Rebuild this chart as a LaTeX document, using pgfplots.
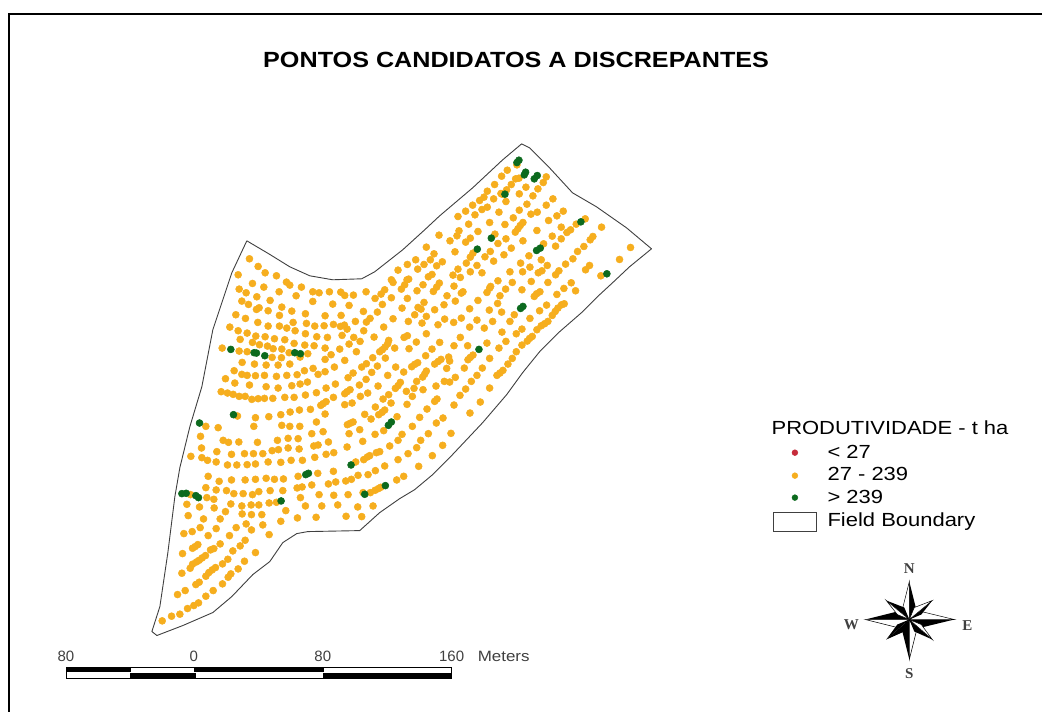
\documentclass[border=0pt]{standalone}
\usepackage{pgfplots}
\usepackage{pgfplotstable}
\usepackage{fontspec}
\setmainfont{Liberation Sans}
\newfontfamily\serif{Liberation Serif}
\pgfplotsset{compat=1.18}
\definecolor{ptorange}{HTML}{F6AE1E}
\definecolor{ptgreen}{HTML}{0C6A1E}
\definecolor{ptred}{HTML}{C62B3A}
\definecolor{edge}{HTML}{404040}

% points read off the crops, each table in the 3x coordinates of its crop
\pgfplotstableread{
x y
179 87
205 110
226 129
145 135
260 138
188 161
290 157
300 166
222 172
335 172
148 178
169 189
268 186
369 186
388 189
419 186
453 187
465 197
491 196
529 186
201 201
319 198
241 212
156 214
176 224
369 215
429 223
478 227
556 206
574 193
585 180
605 204
578 224
605 150
610 158
652 150
657 148
645 165
635 178
682 183
625 121
653 104
678 90
703 104
684 118
722 90
733 72
710 52
748 16
741 108
758 96
727 134
716 141
749 160
741 172
731 185
700 165
772 198
653 206
637 235
703 218
694 238
685 233
675 255
710 260
656 275
697 280
735 240
763 225
765 268
745 285
710 312
680 337
727 358
750 338
708 378
653 318
643 323
597 332
594 342
586 352
578 360
570 366
615 355
658 357
553 322
522 303
582 292
610 267
563 247
541 266
530 277
521 245
497 275
454 257
406 258
347 252
276 232
235 243
306 244
208 234
200 239
138 255
167 266
204 278
235 289
269 257
310 278
350 281
269 289
291 295
316 303
375 289
403 288
431 284
452 290
464 286
472 298
120 292
145 303
172 310
198 319
226 321
254 327
285 330
347 312
381 321
413 323
457 317
492 323
151 329
188 338
209 345
233 349
250 357
313 341
345 346
97 355
148 364
172 366
276 358
298 369
373 348
406 355
450 358
478 343
511 335
247 383
275 384
354 372
331 382
424 375
406 389
500 366
157 398
194 403
229 406
265 406
300 403
370 416
465 392
549 384
530 402
516 412
563 409
587 385
618 412
666 411
675 404
684 399
735 403
746 395
754 389
777 382
771 416
133 423
156 434
172 437
197 438
224 437
260 440
291 437
322 435
344 423
385 434
406 426
434 412
490 430
475 444
546 428
529 449
594 437
642 427
710 424
705 433
699 442
681 455
107 447
135 460
179 466
229 471
265 475
306 468
331 463
353 457
409 475
437 463
509 466
565 469
632 458
625 468
617 476
673 476
700 480
739 469
764 455
94 486
113 490
130 494
148 500
166 500
186 509
205 507
224 506
249 506
285 503
313 503
347 496
380 489
465 492
472 486
481 480
512 500
534 490
597 495
580 508
604 520
650 485
668 500
431 503
409 516
400 522
393 527
465 525
487 520
557 532
652 524
622 561
585 541
577 548
567 555
525 554
544 568
406 553
362 539
329 541
301 547
273 555
237 561
197 564
143 559
712 538
735 515
742 508
740 580
760 565
690 563
668 590
380 577
490 577
481 581
473 585
330 590
300 590
276 587
192 590
85 594
48 590
}\ptsB
\pgfplotstableread{
x y
123 359
193 369
200 370
225 378
315 369
332 372
131 555
29 580
596 587
605 577
}\greenB
\pgfplotstableread{
x y
223 19
245 40
250 36
295 62
227 64
270 87
245 115
222 128
242 173
223 198
210 244
227 293
210 307
241 347
223 376
271 400
302 367
330 325
258 328
275 305
292 287
308 265
254 265
265 240
272 233
280 226
330 236
264 198
322 190
358 205
379 185
367 157
410 162
427 148
391 125
404 105
366 97
339 125
314 145
292 121
270 142
329 91
354 71
361 48
322 38
330 25
333 20
378 28
398 8
355 3
427 30
464 50
471 42
481 36
455 5
505 8
532 44
553 26
575 9
588 33
501 76
480 93
451 116
554 72
546 75
535 85
527 95
518 107
505 125
495 132
485 138
472 150
458 170
450 176
443 184
427 196
410 216
398 236
385 253
370 272
361 280
352 287
67 464
214 461
146 462
123 482
189 497
111 504
85 522
158 528
117 560
72 590
}\ptsC
\pgfplotstableread{
x y
423 86
430 80
298 209
}\greenC
\pgfplotstableread{
x y
232 90
203 106
186 124
238 130
228 132
320 126
311 143
165 149
215 149
201 165
143 169
259 157
295 162
133 187
120 197
280 183
239 177
162 192
184 176
340 192
199 200
99 211
262 208
320 211
143 217
127 224
78 229
239 226
178 232
371 229
293 232
274 238
55 245
106 240
352 243
221 249
327 257
150 263
250 263
242 272
235 282
227 292
196 269
87 268
365 277
437 252
410 268
486 277
393 285
382 293
365 312
292 287
58 288
52 303
115 290
92 310
78 322
31 318
166 298
199 312
250 318
460 305
452 315
433 335
414 350
400 372
378 388
573 338
540 374
450 392
438 405
484 423
312 327
348 334
338 304
215 340
175 326
152 350
136 366
162 379
193 360
100 355
92 367
80 385
112 392
46 351
268 363
305 375
323 392
243 385
271 397
307 408
296 414
358 408
348 420
92 411
127 414
211 411
249 411
55 403
40 421
62 428
188 178
}\ptsD
\pgfplotstableread{
x y
238 76
232 83
258 112
254 120
293 122
284 132
196 178
424 261
155 310
113 343
302 340
291 347
502 417
}\greenD
\pgfplotstableread{
x y
182 50
250 62
266 68
297 67
353 68
413 62
445 56
475 57
516 42
550 36
628 42
660 30
706 44
732 33
522 79
535 76
566 67
622 82
669 65
750 79
775 62
185 85
231 96
275 104
314 102
341 102
369 102
397 93
416 90
445 85
478 88
710 99
720 96
153 110
186 114
203 122
229 127
263 136
291 136
322 135
347 133
385 127
423 128
454 122
488 122
525 113
559 104
582 99
672 120
683 112
690 108
648 127
735 139
775 120
581 155
534 161
475 170
205 170
238 185
275 181
316 181
347 179
379 176
404 179
431 178
655 167
685 165
707 153
635 179
618 184
588 187
566 193
516 196
487 202
472 205
771 181
198 204
229 211
260 213
282 222
310 222
338 225
357 216
391 213
429 213
670 219
692 219
706 212
716 207
723 203
538 225
582 227
625 225
482 234
141 254
179 262
201 234
222 239
223 265
273 253
306 259
334 256
357 256
388 250
410 248
497 259
546 259
594 256
654 262
700 259
257 276
307 283
335 285
366 285
438 273
145 288
191 298
241 298
473 295
529 293
619 290
666 291
423 305
319 313
369 316
181 324
229 327
289 324
335 331
157 336
132 342
205 348
269 348
388 345
316 362
241 373
301 379
174 375
166 381
158 386
222 387
212 391
279 394
128 402
347 399
197 408
187 415
178 422
170 427
158 434
151 446
264 419
248 433
314 425
227 444
217 451
207 459
198 470
295 448
126 461
273 463
265 473
248 493
178 488
168 495
136 513
113 525
220 513
198 530
176 550
162 558
143 567
120 584
95 590
67 604
152 225
}\ptsA
\pgfplotstableread{
x y
126 222
139 221
168 228
176 234
424 244
498 165
506 161
634 136
737 198
675 224
}\greenA

\begin{document}
\begin{tikzpicture}[x=1pt,y=1pt]
\begin{axis}[
  width=1043pt, height=713pt, scale only axis,
  xmin=0, xmax=1043, ymin=0, ymax=713, y dir=reverse,
  hide axis, clip=false,
  dot/.style={only marks, mark=*, color=#1, mark size=3.5pt, mark options={solid, draw=#1, fill=#1, line width=0.5pt}},
  key/.style={only marks, mark=*, color=#1, mark size=2.9pt, mark options={solid, draw=#1, fill=#1, line width=0.5pt}, forget plot},
]
\addplot[fill=white, draw=none, forget plot] coordinates {(0,0) (1043,0) (1043,713) (0,713)} -- cycle;
% map frame
\addplot[black, line width=1.6pt, forget plot] coordinates {(1043,14) (9,14) (9,713)};
% field boundary
\addplot[edge, line width=0.9pt, line join=round, forget plot] coordinates {
(247,241) (269,254) (290,267) (310,276) (333,280) (362,279) (375,272) (403,250) (425,230)
(440,216) (473,188) (503,160) (522,144) (530,148) (550,168) (573,193) (597,207) (627,228) (652,249)
(630,267) (613,283) (600,295) (583,312) (560,332) (540,352) (523,373) (507,395) (483,423) (450,458)
(433,475) (415,490) (400,499) (380,513) (360,531) (308,532) (297,534) (283,543) (270,562) (253,575)
(232,597) (213,613) (183,626) (157,636) (152,632) (160,607) (168,553) (175,497) (180,468) (190,427)
(202,387) (213,330) (232,273) (247,241)};
% yield points, orange first
\addplot[dot=ptorange, forget plot] table[x expr=140+\thisrow{x}/3, y expr=420+\thisrow{y}/3] {\ptsA};
\addplot[dot=ptorange, forget plot] table[x expr=190+\thisrow{x}/3, y expr=230+\thisrow{y}/3] {\ptsB};
\addplot[dot=ptorange, forget plot] table[x expr=380+\thisrow{x}/3, y expr=280+\thisrow{y}/3] {\ptsC};
\addplot[dot=ptorange, forget plot] table[x expr=440+\thisrow{x}/3, y expr=135+\thisrow{y}/3] {\ptsD};
\addplot[dot=ptgreen, forget plot] table[x expr=140+\thisrow{x}/3, y expr=420+\thisrow{y}/3] {\greenA};
\addplot[dot=ptgreen, forget plot] table[x expr=190+\thisrow{x}/3, y expr=230+\thisrow{y}/3] {\greenB};
\addplot[dot=ptgreen, forget plot] table[x expr=380+\thisrow{x}/3, y expr=280+\thisrow{y}/3] {\greenC};
\addplot[dot=ptgreen, forget plot] table[x expr=440+\thisrow{x}/3, y expr=135+\thisrow{y}/3] {\greenD};
% legend keys
\addplot[key=ptred] coordinates {(795.5,453)};
\addplot[key=ptorange] coordinates {(795.5,476)};
\addplot[key=ptgreen] coordinates {(795.5,498)};
\draw[edge, line width=0.8pt] (axis cs:774,513) rectangle (axis cs:817,532);
\def\lab#1#2#3{\node[anchor=base west, inner sep=0pt, font=\fontsize{19}{19}\selectfont] at (axis cs:#1,#2) {\scalebox{1.157}[1]{#3}};}
\lab{772}{435}{PRODUTIVIDADE - t ha}
\lab{828}{459}{< 27}
\lab{828}{481}{27 - 239}
\lab{828}{504}{> 239}
\lab{828}{527}{Field Boundary}
% title
\node[anchor=base, inner sep=0pt, font=\fontsize{22}{22}\selectfont\bfseries] at (axis cs:516.5,68) {\scalebox{1.145}[1]{PONTOS CANDIDATOS A DISCREPANTES}};
% scale bar
\draw[black, line width=0.6pt] (axis cs:66,668) rectangle (axis cs:452,679);
\fill[black] (axis cs:66,668) rectangle (axis cs:131,673);
\fill[black] (axis cs:194,668) rectangle (axis cs:324,673);
\fill[black] (axis cs:130,674) rectangle (axis cs:196,679);
\fill[black] (axis cs:323,674) rectangle (axis cs:452,679);
\node[anchor=base, inner sep=0pt, text=black!75, font=\fontsize{15}{15}\selectfont] at (axis cs:66,662) {80};
\node[anchor=base, inner sep=0pt, text=black!75, font=\fontsize{15}{15}\selectfont] at (axis cs:194,662) {0};
\node[anchor=base, inner sep=0pt, text=black!75, font=\fontsize{15}{15}\selectfont] at (axis cs:323,662) {80};
\node[anchor=base, inner sep=0pt, text=black!75, font=\fontsize{15}{15}\selectfont] at (axis cs:452,662) {160};
\node[anchor=base west, inner sep=0pt, text=black!75, font=\fontsize{15}{15}\selectfont] at (axis cs:478,662) {\scalebox{1.13}[1]{Meters}};
% north arrow
\def\kite#1#2#3{\fill[#3] (axis cs:910,620) -- (axis cs:#1) -- (axis cs:#2) -- cycle;}
\draw[black,line width=.5pt,fill=white] (axis cs:910,582) -- (axis cs:903,610) -- (axis cs:910,620) -- cycle;
\kite{910,582}{917,610}{black}
\kite{910,660}{903,632}{black}
\draw[black,line width=.5pt,fill=white] (axis cs:910,660) -- (axis cs:917,632) -- (axis cs:910,620) -- cycle;
\kite{866,620}{898,612}{black}
\draw[black,line width=.5pt,fill=white] (axis cs:866,620) -- (axis cs:898,628) -- (axis cs:910,620) -- cycle;
\kite{955,620}{922,628}{black}
\draw[black,line width=.5pt,fill=white] (axis cs:955,620) -- (axis cs:922,612) -- (axis cs:910,620) -- cycle;
\kite{887,601}{905,608}{black}
\draw[black,line width=.5pt,fill=white] (axis cs:887,601) -- (axis cs:898,615) -- (axis cs:910,620) -- cycle;
\kite{933,601}{922,615}{black}
\draw[black,line width=.5pt,fill=white] (axis cs:933,601) -- (axis cs:915,608) -- (axis cs:910,620) -- cycle;
\kite{887,640}{898,625}{black}
\kite{887,640}{905,632}{black}
\kite{933,640}{915,632}{black}
\draw[black,line width=.5pt,fill=white] (axis cs:933,640) -- (axis cs:922,625) -- (axis cs:910,620) -- cycle;
\node[anchor=base, inner sep=0pt, font=\serif\fontsize{15}{15}\selectfont\bfseries, text=black!75] at (axis cs:910,574) {N};
\node[anchor=base, inner sep=0pt, font=\serif\fontsize{15}{15}\selectfont\bfseries, text=black!75] at (axis cs:910,679) {S};
\node[anchor=base, inner sep=0pt, font=\serif\fontsize{15}{15}\selectfont\bfseries, text=black!75] at (axis cs:852,630) {W};
\node[anchor=base, inner sep=0pt, font=\serif\fontsize{15}{15}\selectfont\bfseries, text=black!75] at (axis cs:968,631) {E};
\end{axis}
\end{tikzpicture}
\end{document}
